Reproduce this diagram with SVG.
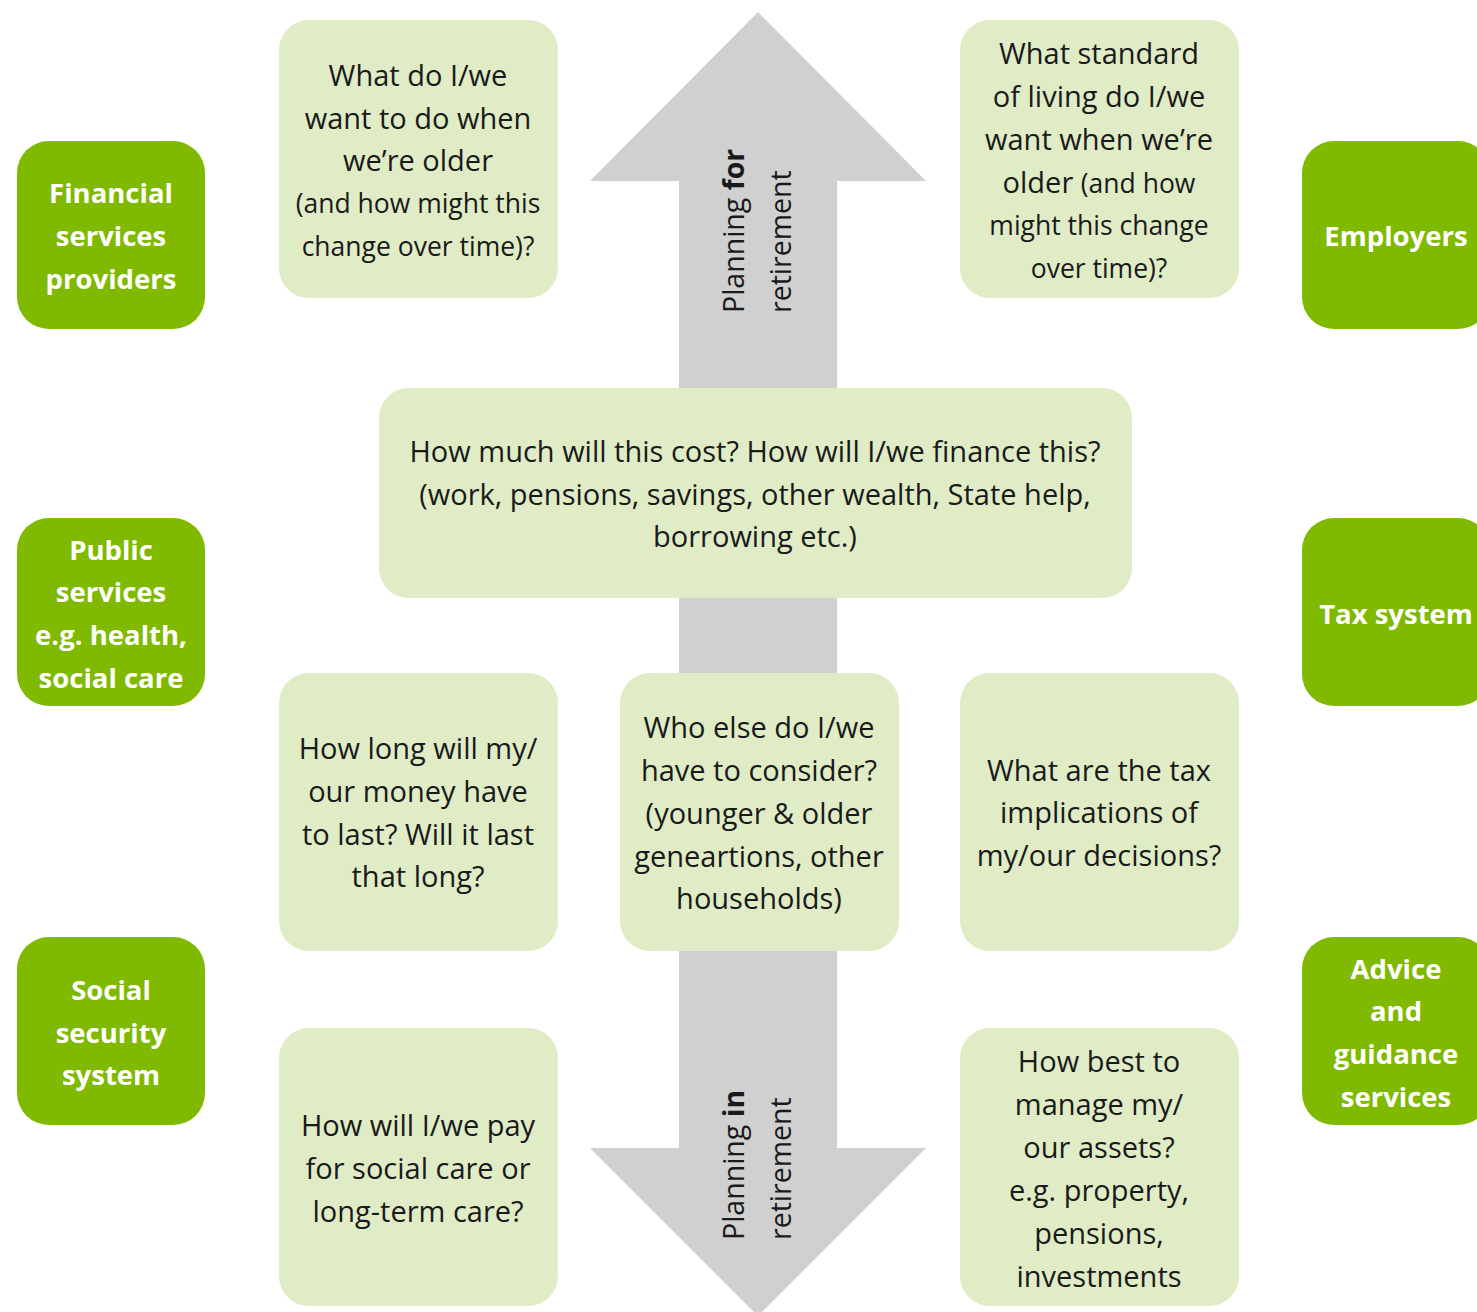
<svg xmlns="http://www.w3.org/2000/svg" width="1477" height="1312" viewBox="0 0 1477 1312">
  <style>
    .actor { fill: #7fba00; }
    .actor-label { font-family: "Open Sans", "Liberation Sans", sans-serif; font-weight: 700; font-size: 27.5px; fill: #ffffff; text-anchor: middle; }
    .question { fill: #dfecc6; }
    .q-label { font-family: "Open Sans", "Liberation Sans", sans-serif; font-size: 29px; fill: #1a1a1a; text-anchor: middle; }
    .small { font-size: 26.5px; }
    .arrow { fill: #d0d0d0; }
    .arrow-label { font-family: "Open Sans", "Liberation Sans", sans-serif; font-size: 28.5px; fill: #1a1a1a; }
  </style>

  <!-- double-headed vertical arrow behind the question boxes -->
  <g id="connectors">
    <polygon class="arrow" points="758,12 926,181 837,181 837,1148 926,1148 758,1316 590,1148 679,1148 679,181 590,181"/>
    <text class="arrow-label" transform="translate(744,313) rotate(-90)">
      <tspan x="0" y="0">Planning <tspan font-weight="700">for</tspan></tspan>
      <tspan x="0" y="47">retirement</tspan>
    </text>
    <text class="arrow-label" transform="translate(744,1240) rotate(-90)">
      <tspan x="0" y="0">Planning <tspan font-weight="700">in</tspan></tspan>
      <tspan x="0" y="47">retirement</tspan>
    </text>
  </g>

  <!-- actors on the left -->
  <g id="financial-services">
    <rect class="actor" x="17" y="141" width="188" height="188" rx="32"/>
    <text class="actor-label"><tspan x="111" y="203">Financial</tspan><tspan x="111" y="246">services</tspan><tspan x="111" y="289">providers</tspan></text>
  </g>
  <g id="public-services">
    <rect class="actor" x="17" y="518" width="188" height="188" rx="32"/>
    <text class="actor-label"><tspan x="111" y="560">Public</tspan><tspan x="111" y="602">services</tspan><tspan x="111" y="645">e.g. health,</tspan><tspan x="111" y="688">social care</tspan></text>
  </g>
  <g id="social-security">
    <rect class="actor" x="17" y="937" width="188" height="188" rx="32"/>
    <text class="actor-label"><tspan x="111" y="1000">Social</tspan><tspan x="111" y="1043">security</tspan><tspan x="111" y="1085">system</tspan></text>
  </g>

  <!-- actors on the right -->
  <g id="employers">
    <rect class="actor" x="1302" y="141" width="188" height="188" rx="32"/>
    <text class="actor-label"><tspan x="1396" y="246">Employers</tspan></text>
  </g>
  <g id="tax-system">
    <rect class="actor" x="1302" y="518" width="188" height="188" rx="32"/>
    <text class="actor-label"><tspan x="1396" y="624">Tax system</tspan></text>
  </g>
  <g id="advice-guidance">
    <rect class="actor" x="1302" y="937" width="188" height="188" rx="32"/>
    <text class="actor-label"><tspan x="1396" y="979">Advice</tspan><tspan x="1396" y="1021">and</tspan><tspan x="1396" y="1064">guidance</tspan><tspan x="1396" y="1107">services</tspan></text>
  </g>

  <!-- planning questions -->
  <g id="q-what-to-do">
    <rect class="question" x="279" y="20" width="279" height="278" rx="30"/>
    <text class="q-label"><tspan x="418" y="86">What do I/we</tspan><tspan x="418" y="129">want to do when</tspan><tspan x="418" y="171">we’re older</tspan><tspan class="small" x="418" y="213">(and how might this</tspan><tspan class="small" x="418" y="256">change over time)?</tspan></text>
  </g>
  <g id="q-standard-of-living">
    <rect class="question" x="960" y="20" width="279" height="278" rx="30"/>
    <text class="q-label"><tspan x="1099" y="64">What standard</tspan><tspan x="1099" y="107">of living do I/we</tspan><tspan x="1099" y="150">want when we’re</tspan><tspan x="1099" y="193">older <tspan class="small">(and how</tspan></tspan><tspan class="small" x="1099" y="235">might this change</tspan><tspan class="small" x="1099" y="278">over time)?</tspan></text>
  </g>
  <g id="q-cost-finance">
    <rect class="question" x="379" y="388" width="753" height="210" rx="30"/>
    <text class="q-label"><tspan x="755" y="462">How much will this cost? How will I/we finance this?</tspan><tspan x="755" y="505">(work, pensions, savings, other wealth, State help,</tspan><tspan x="755" y="547">borrowing etc.)</tspan></text>
  </g>
  <g id="q-how-long">
    <rect class="question" x="279" y="673" width="279" height="278" rx="30"/>
    <text class="q-label"><tspan x="418" y="759">How long will my/</tspan><tspan x="418" y="802">our money have</tspan><tspan x="418" y="845">to last? Will it last</tspan><tspan x="418" y="887">that long?</tspan></text>
  </g>
  <g id="q-who-else">
    <rect class="question" x="620" y="673" width="279" height="278" rx="30"/>
    <text class="q-label"><tspan x="759" y="738">Who else do I/we</tspan><tspan x="759" y="781">have to consider?</tspan><tspan x="759" y="824">(younger &amp; older</tspan><tspan x="759" y="867">geneartions, other</tspan><tspan x="759" y="909">households)</tspan></text>
  </g>
  <g id="q-tax-implications">
    <rect class="question" x="960" y="673" width="279" height="278" rx="30"/>
    <text class="q-label"><tspan x="1099" y="781">What are the tax</tspan><tspan x="1099" y="823">implications of</tspan><tspan x="1099" y="866">my/our decisions?</tspan></text>
  </g>
  <g id="q-social-care">
    <rect class="question" x="279" y="1028" width="279" height="278" rx="30"/>
    <text class="q-label"><tspan x="418" y="1136">How will I/we pay</tspan><tspan x="418" y="1179">for social care or</tspan><tspan x="418" y="1222">long-term care?</tspan></text>
  </g>
  <g id="q-manage-assets">
    <rect class="question" x="960" y="1028" width="279" height="278" rx="30"/>
    <text class="q-label"><tspan x="1099" y="1072">How best to</tspan><tspan x="1099" y="1115">manage my/</tspan><tspan x="1099" y="1158">our assets?</tspan><tspan x="1099" y="1201">e.g. property,</tspan><tspan x="1099" y="1244">pensions,</tspan><tspan x="1099" y="1287">investments</tspan></text>
  </g>
</svg>
